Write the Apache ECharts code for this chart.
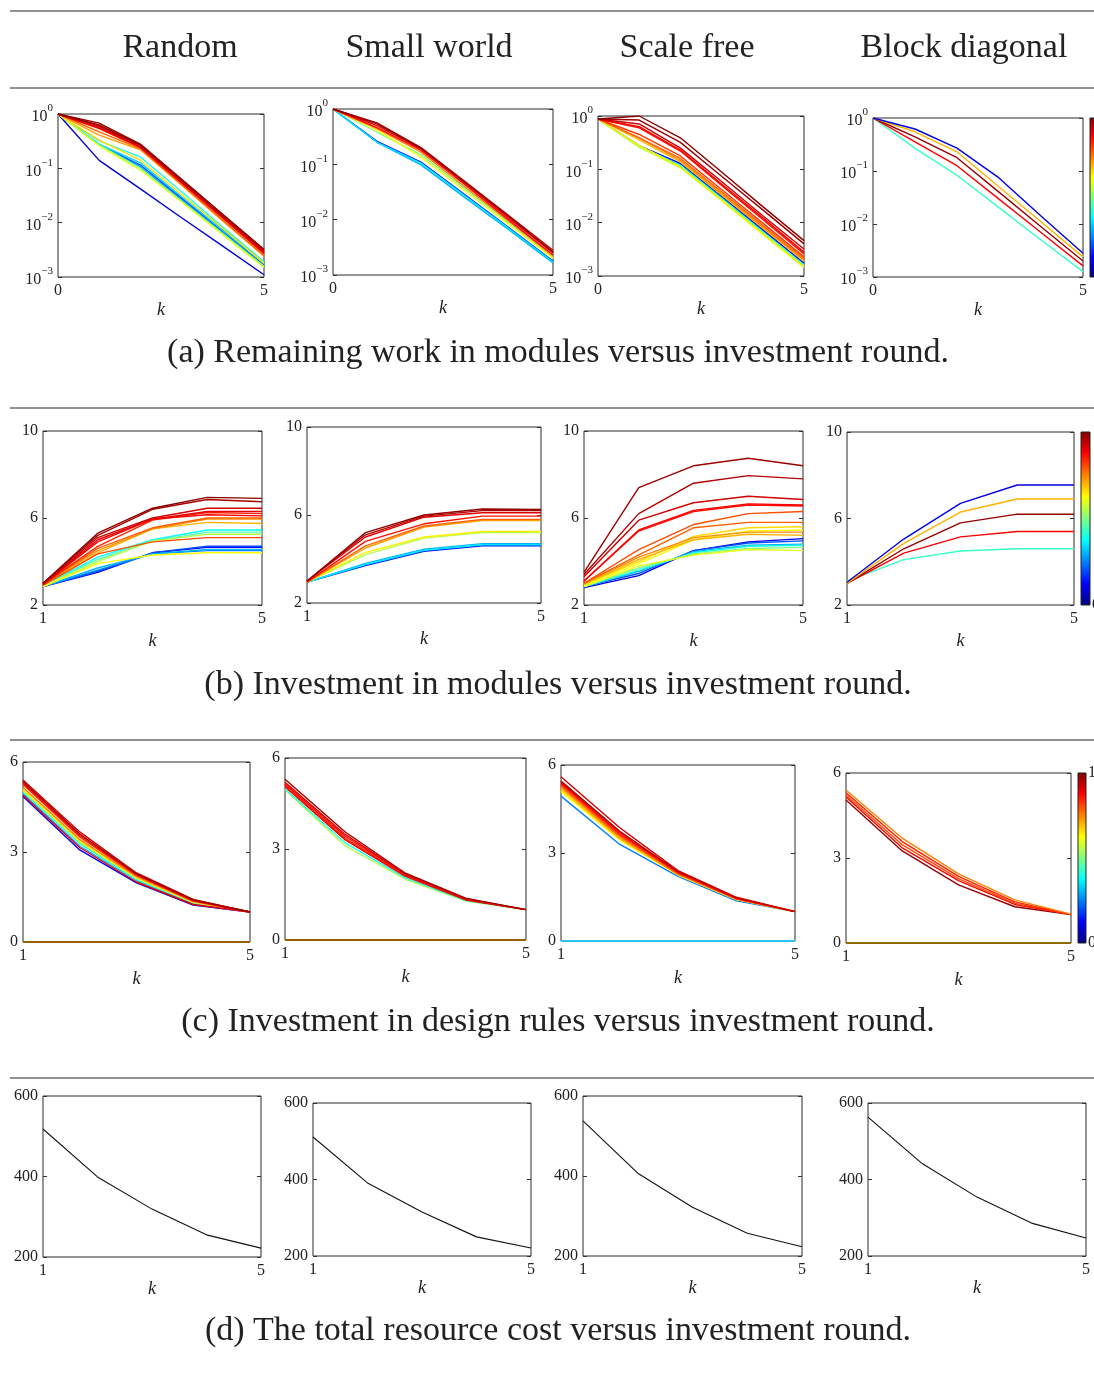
<!DOCTYPE html>
<html><head><meta charset="utf-8">
<script src="https://cdn.jsdelivr.net/npm/echarts@6/dist/echarts.min.js"></script>
<style>html,body{margin:0;padding:0;background:#fff;overflow:hidden}#c{width:1094px;height:1378px}</style>
</head><body><div id="c"></div>
<script>
// ---------------- DATA ----------------
const kWork = [0, 1, 2, 3, 4, 5];
const kInv = [1, 2, 3, 4, 5];
const columnTitles = ['Random', 'Small world', 'Scale free', 'Block diagonal'];
const captions = [
  '(a) Remaining work in modules versus investment round.',
  '(b) Investment in modules versus investment round.',
  '(c) Investment in design rules versus investment round.',
  '(d) The total resource cost versus investment round.'
];

// (a) remaining work — each row one module line, colour value (jet 0..1) in *C arrays
const workRandom = [
  [1, 0.14, 0.042, 0.0123, 0.0037, 0.0011],
  [1, 0.27, 0.115, 0.028, 0.0068, 0.00166],
  [1, 0.27, 0.107, 0.026, 0.0065, 0.00158],
  [1, 0.28, 0.126, 0.030, 0.0073, 0.00178],
  [1, 0.32, 0.162, 0.037, 0.0083, 0.0019],
  [1, 0.27, 0.1, 0.025, 0.0063, 0.00158],
  [1, 0.26, 0.093, 0.024, 0.006, 0.0015],
  [1, 0.33, 0.141, 0.033, 0.0078, 0.0018],
  [1, 0.41, 0.22, 0.049, 0.0107, 0.0024],
  [1, 0.47, 0.23, 0.051, 0.011, 0.0025],
  [1, 0.54, 0.24, 0.054, 0.012, 0.0027],
  [1, 0.575, 0.25, 0.056, 0.0129, 0.0029],
  [1, 0.55, 0.245, 0.055, 0.0124, 0.00275],
  [1, 0.6, 0.263, 0.059, 0.0132, 0.003],
  [1, 0.68, 0.28, 0.063, 0.0141, 0.0032],
  [1, 0.63, 0.27, 0.062, 0.0141, 0.0032]
];
const workRandomC = [0.08, 0.2, 0.28, 0.33, 0.4, 0.5, 0.6, 0.66, 0.72, 0.78, 0.84, 0.88, 0.9, 0.93, 0.97, 0.99];

const workSmall = [
  [1, 0.26, 0.11, 0.028, 0.0071, 0.00178],
  [1, 0.25, 0.098, 0.025, 0.0065, 0.00166],
  [1, 0.25, 0.105, 0.027, 0.0069, 0.00174],
  [1, 0.38, 0.15, 0.036, 0.0087, 0.0021],
  [1, 0.42, 0.135, 0.033, 0.0081, 0.002],
  [1, 0.44, 0.166, 0.039, 0.0093, 0.0022],
  [1, 0.46, 0.18, 0.043, 0.0098, 0.0023],
  [1, 0.5, 0.19, 0.046, 0.0106, 0.0025],
  [1, 0.56, 0.2, 0.049, 0.0117, 0.0028],
  [1, 0.54, 0.195, 0.047, 0.0113, 0.0026]
];
const workSmallC = [0.15, 0.3, 0.35, 0.5, 0.62, 0.75, 0.87, 0.9, 0.95, 0.98];

const workScale = [
  [0.88, 0.275, 0.129, 0.031, 0.0074, 0.00174],
  [0.88, 0.275, 0.126, 0.030, 0.0071, 0.0017],
  [0.88, 0.27, 0.117, 0.028, 0.0066, 0.00158],
  [0.88, 0.27, 0.12, 0.029, 0.0068, 0.00162],
  [0.88, 0.26, 0.115, 0.0275, 0.0066, 0.00158],
  [0.88, 0.26, 0.107, 0.0257, 0.006, 0.00145],
  [0.88, 0.28, 0.112, 0.027, 0.0063, 0.0015],
  [0.88, 0.355, 0.138, 0.033, 0.0079, 0.0019],
  [0.88, 0.39, 0.148, 0.035, 0.0083, 0.002],
  [0.88, 0.39, 0.16, 0.038, 0.0089, 0.00214],
  [0.88, 0.45, 0.178, 0.042, 0.0098, 0.0023],
  [0.88, 0.6, 0.22, 0.05, 0.0115, 0.0026],
  [0.88, 0.63, 0.23, 0.053, 0.0123, 0.0028],
  [0.88, 0.71, 0.25, 0.059, 0.0135, 0.0032],
  [0.88, 0.84, 0.32, 0.074, 0.0174, 0.004],
  [0.88, 1.0, 0.39, 0.089, 0.02, 0.0046]
];
const workScaleC = [0.1, 0.15, 0.25, 0.38, 0.45, 0.58, 0.64, 0.7, 0.74, 0.78, 0.82, 0.86, 0.88, 0.92, 0.97, 0.99];

const workBlock = [
  [1, 0.27, 0.083, 0.0204, 0.005, 0.00126],
  [1, 0.355, 0.126, 0.0295, 0.0069, 0.00162],
  [1, 0.44, 0.178, 0.04, 0.0089, 0.002],
  [1, 0.55, 0.23, 0.05, 0.011, 0.0024],
  [1, 0.62, 0.27, 0.074, 0.0141, 0.0028]
];
const workBlockC = [0.43, 0.88, 0.98, 0.7, 0.1];

// (b) investment in modules
const invRandom = [
  [2.85, 3.5, 4.4, 4.65, 4.65],
  [2.85, 3.55, 4.4, 4.7, 4.7],
  [2.85, 3.6, 4.35, 4.5, 4.5],
  [2.85, 3.7, 4.35, 4.55, 4.55],
  [2.9, 4.2, 5.0, 5.45, 5.45],
  [2.9, 4.1, 4.95, 5.35, 5.35],
  [2.85, 4.0, 4.95, 5.25, 5.25],
  [2.85, 3.9, 4.3, 4.4, 4.4],
  [2.9, 4.4, 5.5, 5.8, 5.75],
  [2.95, 4.5, 5.5, 5.95, 5.95],
  [2.95, 4.6, 5.55, 6.0, 6.0],
  [2.9, 4.35, 4.9, 5.1, 5.1],
  [2.95, 4.7, 5.9, 6.25, 6.2],
  [2.95, 4.9, 5.95, 6.15, 6.1],
  [2.95, 5.0, 5.95, 6.3, 6.3],
  [2.95, 5.1, 6.0, 6.45, 6.45],
  [3.0, 5.2, 6.4, 6.85, 6.75],
  [3.0, 5.3, 6.45, 6.95, 6.9]
];
const invRandomC = [0.12, 0.2, 0.25, 0.3, 0.38, 0.45, 0.55, 0.62, 0.7, 0.74, 0.78, 0.8, 0.84, 0.88, 0.9, 0.92, 0.96, 0.99];

const invSmall = [
  [2.95, 3.7, 4.35, 4.6, 4.6],
  [2.95, 3.8, 4.45, 4.7, 4.7],
  [2.95, 3.75, 4.4, 4.65, 4.65],
  [2.95, 4.2, 4.95, 5.2, 5.2],
  [2.95, 4.3, 5.0, 5.25, 5.25],
  [2.95, 4.5, 5.45, 5.75, 5.75],
  [2.95, 4.6, 5.5, 5.8, 5.8],
  [2.95, 4.8, 5.6, 5.95, 5.95],
  [3.0, 5.0, 5.9, 6.1, 6.1],
  [3.0, 5.1, 5.95, 6.2, 6.2],
  [3.0, 5.2, 6.0, 6.27, 6.25]
];
const invSmallC = [0.15, 0.3, 0.35, 0.55, 0.64, 0.72, 0.78, 0.86, 0.9, 0.95, 0.98];

const invScale = [
  [2.8, 3.35, 4.5, 4.9, 5.05],
  [2.85, 3.45, 4.5, 4.85, 4.95],
  [2.85, 3.55, 4.45, 4.75, 4.8],
  [2.85, 3.6, 4.4, 4.7, 4.75],
  [2.85, 3.7, 4.35, 4.6, 4.65],
  [2.85, 3.8, 4.3, 4.55, 4.5],
  [2.9, 3.9, 5.0, 5.4, 5.45],
  [2.95, 4.0, 5.15, 5.55, 5.6],
  [2.95, 4.1, 5.0, 5.25, 5.2],
  [3.0, 4.2, 5.1, 5.35, 5.35],
  [3.0, 4.3, 5.55, 5.8, 5.8],
  [3.0, 4.55, 5.7, 6.2, 6.3],
  [3.1, 5.4, 6.3, 6.6, 6.55],
  [3.1, 5.45, 6.35, 6.65, 6.6],
  [3.3, 5.9, 6.7, 7.0, 6.85],
  [3.4, 6.2, 7.6, 7.95, 7.8],
  [3.5, 7.4, 8.4, 8.75, 8.4]
];
const invScaleC = [0.1, 0.2, 0.3, 0.4, 0.5, 0.6, 0.62, 0.66, 0.7, 0.74, 0.78, 0.8, 0.86, 0.88, 0.92, 0.95, 0.97];

const invBlock = [
  [3.1, 4.1, 4.5, 4.6, 4.6],
  [3.0, 4.4, 5.15, 5.4, 5.4],
  [3.0, 4.6, 5.8, 6.2, 6.2],
  [3.0, 4.85, 6.3, 6.9, 6.9],
  [3.05, 5.05, 6.7, 7.55, 7.55]
];
const invBlockC = [0.43, 0.88, 0.98, 0.7, 0.1];

// (c) investment in design rules
const ruleRandom = [
  [4.85, 3.07, 1.97, 1.23, 1.0],
  [4.95, 3.2, 2.05, 1.28, 1.0],
  [5.0, 3.28, 2.08, 1.3, 1.0],
  [5.05, 3.33, 2.12, 1.32, 1.0],
  [5.1, 3.38, 2.15, 1.33, 1.0],
  [5.15, 3.42, 2.18, 1.35, 1.0],
  [4.9, 3.15, 2.0, 1.25, 1.0],
  [5.25, 3.5, 2.22, 1.37, 1.0],
  [5.3, 3.55, 2.25, 1.38, 1.0],
  [5.4, 3.67, 2.3, 1.42, 1.0],
  [5.35, 3.6, 2.27, 1.4, 1.0]
];
const ruleRandomC = [0.12, 0.3, 0.42, 0.55, 0.65, 0.75, 0.9, 0.84, 0.88, 0.92, 0.97];

const ruleSmall = [
  [4.95, 3.1, 2.0, 1.28, 1.0],
  [4.98, 3.2, 2.05, 1.3, 1.0],
  [5.05, 3.3, 2.1, 1.32, 1.0],
  [5.1, 3.35, 2.12, 1.33, 1.0],
  [5.15, 3.42, 2.15, 1.34, 1.0],
  [5.2, 3.48, 2.17, 1.35, 1.0],
  [5.3, 3.56, 2.2, 1.38, 1.0]
];
const ruleSmallC = [0.55, 0.4, 0.9, 0.85, 0.88, 0.9, 0.97];

const ruleScale = [
  [4.94, 3.3, 2.2, 1.37, 1.0],
  [5.1, 3.45, 2.25, 1.41, 1.0],
  [5.15, 3.48, 2.26, 1.42, 1.0],
  [5.2, 3.5, 2.27, 1.42, 1.0],
  [5.25, 3.55, 2.28, 1.43, 1.0],
  [5.3, 3.6, 2.3, 1.44, 1.0],
  [5.35, 3.65, 2.33, 1.45, 1.0],
  [5.4, 3.7, 2.35, 1.46, 1.0],
  [5.45, 3.75, 2.37, 1.47, 1.0],
  [5.6, 3.87, 2.4, 1.49, 1.0]
];
const ruleScaleC = [0.25, 0.62, 0.66, 0.7, 0.75, 0.8, 0.85, 0.88, 0.96, 0.92];

const ruleBlock = [
  [5.05, 3.25, 2.05, 1.28, 1.0],
  [5.15, 3.36, 2.2, 1.36, 1.0],
  [5.22, 3.47, 2.27, 1.4, 1.0],
  [5.3, 3.58, 2.35, 1.45, 1.0],
  [5.4, 3.7, 2.44, 1.52, 1.02]
];
const ruleBlockC = [0.98, 0.88, 0.8, 0.85, 0.75];

const ruleZero = [0, 0, 0, 0, 0];
const ruleZeroColors = ['#9a5f06', '#9a5f06', '#2cc3ee', '#8c6c00'];

// (d) total resource cost
const costRandom = [518, 399, 319, 255, 222];
const costSmall = [511, 391, 315, 250, 221];
const costScale = [538, 407, 322, 257, 223];
const costBlock = [563, 441, 354, 286, 247];

// y tick values
const ticksInv = [2, 6, 10];
const ticksRule = [0, 3, 6];
const ticksCost = [200, 400, 600];

// ---------------- LAYOUT (pixels) ----------------
const boxes = [
  [[58,114,264,277],[333,109,553,275],[598,116,804,276],[873,118,1083,277]],
  [[43,431,262,605],[307,427,541,603],[584,431,803,605],[847,432,1074,605]],
  [[23,762,250,942],[285,758,526,940],[561,765,795,941],[846,773,1071,943]],
  [[43,1096,261,1257],[313,1103,531,1256],[583,1096,802,1256],[868,1103,1086,1256]]
];
const nameGaps = [24, 27, 28, 23];
const colorbars = [[1090,118,12,159],[1081,432,9,173],[1078,773,8,170]];
const ruleYs = [11, 88, 408, 740, 1078];
const titleX = [180, 429, 687, 964];
const captionY = [353, 685, 1022, 1331];

// ---------------- BUILD ----------------
const FONT = '"Liberation Serif", "DejaVu Serif", serif';
function jet(v) {
  const f = x => Math.max(0, Math.min(1, x));
  const r = f(1.5 - Math.abs(4 * v - 3)), g = f(1.5 - Math.abs(4 * v - 2)), b = f(1.5 - Math.abs(4 * v - 1));
  return 'rgb(' + Math.round(r * 255) + ',' + Math.round(g * 255) + ',' + Math.round(b * 255) + ')';
}
const rows = [
  { k: kWork, sets: [[workRandom, workRandomC], [workSmall, workSmallC], [workScale, workScaleC], [workBlock, workBlockC]], log: true, xmin: 0, xmax: 5 },
  { k: kInv, sets: [[invRandom, invRandomC], [invSmall, invSmallC], [invScale, invScaleC], [invBlock, invBlockC]], ymin: 2, ymax: 10, yt: ticksInv, xmin: 1, xmax: 5 },
  { k: kInv, sets: [[ruleRandom, ruleRandomC], [ruleSmall, ruleSmallC], [ruleScale, ruleScaleC], [ruleBlock, ruleBlockC]], ymin: 0, ymax: 6, yt: ticksRule, xmin: 1, xmax: 5, zero: true },
  { k: kInv, sets: [[[costRandom], null], [[costSmall], null], [[costScale], null], [[costBlock], null]], ymin: 200, ymax: 600, yt: ticksCost, xmin: 1, xmax: 5 }
];

const grid = [], xAxis = [], yAxis = [], series = [], graphic = [];
let gi = 0;
rows.forEach((row, r) => {
  row.sets.forEach((set, c) => {
    const b = boxes[r][c];
    grid.push({ left: b[0], top: b[1], width: b[2] - b[0], height: b[3] - b[1], show: true, borderColor: '#2a2a2a', borderWidth: 1, backgroundColor: '#fff' });
    xAxis.push({
      gridIndex: gi, type: 'value', min: row.xmin, max: row.xmax,
      axisLine: { show: false }, axisTick: { show: false }, splitLine: { show: false },
      axisLabel: { customValues: [row.xmin, row.xmax], fontFamily: FONT, fontSize: 16, color: '#222', margin: 6 },
      name: 'k', nameLocation: 'middle', nameGap: nameGaps[r],
      nameTextStyle: { fontFamily: FONT, fontStyle: 'italic', fontSize: 18, color: '#222' }
    });
    const yBase = row.log ? {
      type: 'log', logBase: 10, min: 0.001, max: 1
    } : { type: 'value', min: row.ymin, max: row.ymax };
    const tickCfg = row.log ? { inside: true, length: 4, lineStyle: { color: '#333' } }
      : { inside: true, length: 4, customValues: row.yt, lineStyle: { color: '#333' } };
    const labelCfg = row.log ? {
      fontFamily: FONT, color: '#222', margin: 5,
      formatter: v => { const e = Math.round(Math.log10(v)); return '{b|10}{s|' + (e === 0 ? '0' : '\u2212' + (-e)) + '}'; },
      rich: { b: { fontFamily: FONT, fontSize: 16, color: '#222', lineHeight: 22, verticalAlign: 'bottom' },
              s: { fontFamily: FONT, fontSize: 11, color: '#222', lineHeight: 13, verticalAlign: 'top' } }
    } : { customValues: row.yt, fontFamily: FONT, fontSize: 16, color: '#222', margin: 5 };
    yAxis.push(Object.assign({ gridIndex: gi, position: 'left', axisLine: { show: false }, splitLine: { show: false }, axisTick: tickCfg, axisLabel: labelCfg }, yBase));
    yAxis.push(Object.assign({ gridIndex: gi, position: 'right', axisLine: { show: false }, splitLine: { show: false }, axisTick: tickCfg, axisLabel: { show: false } }, yBase));
    const lines = set[0], cols = set[1];
    lines.forEach((vals, li) => {
      series.push({
        type: 'line', xAxisIndex: gi, yAxisIndex: gi * 2, silent: true, animation: false,
        symbol: 'none', data: vals.map((v, i) => [row.k[i], v]),
        lineStyle: { width: cols ? 1.4 : 1.1, color: cols ? jet(cols[li]) : '#111' }
      });
    });
    if (row.zero) {
      series.push({
        type: 'line', xAxisIndex: gi, yAxisIndex: gi * 2, silent: true, animation: false, clip: false,
        symbol: 'none', data: ruleZero.map((v, i) => [row.k[i], v]),
        lineStyle: { width: 2, color: ruleZeroColors[c] }
      });
    }
    gi++;
  });
});

// rules, titles, captions
ruleYs.forEach(y => graphic.push({ type: 'line', silent: true, shape: { x1: 10, y1: y, x2: 1094, y2: y }, style: { stroke: '#222', lineWidth: 1 } }));
columnTitles.forEach((t, i) => graphic.push({ type: 'text', silent: true, x: titleX[i], y: 48, style: { text: t, fontFamily: FONT, fontSize: 34, fill: '#222', align: 'center', verticalAlign: 'middle' } }));
captions.forEach((t, i) => graphic.push({ type: 'text', silent: true, x: 558, y: captionY[i], style: { text: t, fontFamily: FONT, fontSize: 34, fill: '#222', align: 'center', verticalAlign: 'middle' } }));
// colour bars
colorbars.forEach(cb => {
  graphic.push({ type: 'rect', silent: true, shape: { x: cb[0], y: cb[1], width: cb[2], height: cb[3] },
    style: { fill: new echarts.graphic.LinearGradient(0, 0, 0, 1, [
      { offset: 0, color: jet(1) }, { offset: 0.125, color: jet(0.875) }, { offset: 0.375, color: jet(0.625) },
      { offset: 0.625, color: jet(0.375) }, { offset: 0.875, color: jet(0.125) }, { offset: 1, color: jet(0) }]),
      stroke: '#222', lineWidth: 1 } });
});
graphic.push({ type: 'text', silent: true, x: 1088, y: 773, style: { text: '1', fontFamily: FONT, fontSize: 16, fill: '#222', align: 'left', verticalAlign: 'middle' } });
graphic.push({ type: 'text', silent: true, x: 1088, y: 943, style: { text: '0', fontFamily: FONT, fontSize: 16, fill: '#222', align: 'left', verticalAlign: 'middle' } });
graphic.push({ type: 'text', silent: true, x: 1092, y: 605, style: { text: '0', fontFamily: FONT, fontSize: 16, fill: '#222', align: 'left', verticalAlign: 'middle' } });

const chart = echarts.init(document.getElementById('c'), null, { renderer: 'canvas' });
chart.setOption({ animation: false, backgroundColor: '#fff', grid, xAxis, yAxis, series, graphic });
</script>
</body></html>
